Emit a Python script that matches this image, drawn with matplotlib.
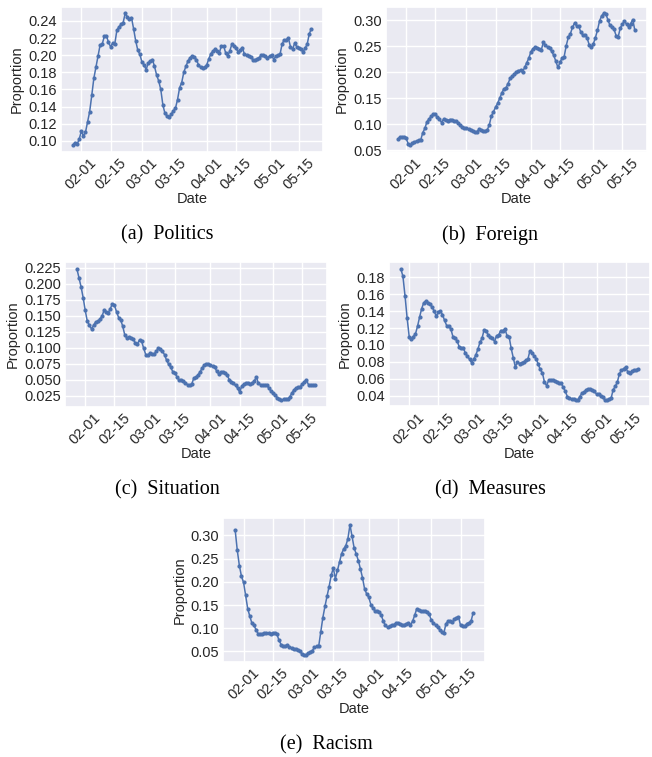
import matplotlib
matplotlib.use("Agg")
import matplotlib.pyplot as plt
import matplotlib.dates as mdates
import matplotlib.ticker as mticker
import numpy as np
import pandas as pd
import seaborn as sns

start_date = "2020-01-28"
end_date = "2020-05-21"

politics = [0.095, 0.098, 0.096, 0.102, 0.111, 0.106, 0.110, 0.122, 0.134, 0.153,
            0.173, 0.186, 0.199, 0.212, 0.213, 0.222, 0.223, 0.215, 0.210, 0.214,
            0.213, 0.229, 0.233, 0.236, 0.238, 0.249, 0.245, 0.242, 0.244, 0.231,
            0.217, 0.206, 0.201, 0.192, 0.189, 0.183, 0.191, 0.193, 0.195, 0.187,
            0.177, 0.170, 0.160, 0.142, 0.132, 0.129, 0.128, 0.131, 0.135, 0.138,
            0.148, 0.162, 0.168, 0.180, 0.187, 0.193, 0.197, 0.199, 0.198, 0.195,
            0.189, 0.186, 0.185, 0.186, 0.189, 0.196, 0.202, 0.205, 0.207, 0.205,
            0.203, 0.211, 0.211, 0.203, 0.199, 0.205, 0.213, 0.211, 0.208, 0.204,
            0.206, 0.209, 0.201, 0.200, 0.199, 0.198, 0.195, 0.194, 0.196, 0.197,
            0.200, 0.200, 0.199, 0.197, 0.199, 0.200, 0.195, 0.199, 0.200, 0.201,
            0.213, 0.218, 0.218, 0.220, 0.210, 0.207, 0.214, 0.210, 0.208, 0.207,
            0.204, 0.208, 0.213, 0.225, 0.231]

foreign = [0.072, 0.075, 0.076, 0.075, 0.073, 0.062, 0.060, 0.064, 0.066, 0.068,
           0.069, 0.070, 0.084, 0.092, 0.105, 0.110, 0.115, 0.119, 0.119, 0.114,
           0.111, 0.103, 0.110, 0.109, 0.107, 0.109, 0.109, 0.107, 0.106, 0.103,
           0.098, 0.095, 0.093, 0.093, 0.091, 0.089, 0.088, 0.085, 0.086, 0.090,
           0.089, 0.088, 0.087, 0.089, 0.099, 0.116, 0.124, 0.133, 0.140, 0.150,
           0.160, 0.168, 0.170, 0.178, 0.188, 0.192, 0.196, 0.200, 0.203, 0.204,
           0.201, 0.209, 0.218, 0.227, 0.239, 0.245, 0.248, 0.246, 0.244, 0.243,
           0.257, 0.252, 0.248, 0.246, 0.240, 0.232, 0.221, 0.209, 0.219, 0.227,
           0.230, 0.251, 0.267, 0.274, 0.286, 0.294, 0.289, 0.288, 0.277, 0.271,
           0.272, 0.266, 0.253, 0.248, 0.254, 0.266, 0.280, 0.298, 0.308, 0.313,
           0.312, 0.301, 0.290, 0.287, 0.282, 0.270, 0.268, 0.285, 0.292, 0.298,
           0.292, 0.287, 0.293, 0.301, 0.280]

situation = [0.223, 0.209, 0.195, 0.178, 0.158, 0.141, 0.135, 0.129, 0.135, 0.140,
             0.141, 0.144, 0.149, 0.158, 0.156, 0.154, 0.161, 0.168, 0.166, 0.156,
             0.147, 0.143, 0.133, 0.119, 0.115, 0.117, 0.115, 0.113, 0.107, 0.106,
             0.112, 0.110, 0.099, 0.089, 0.088, 0.091, 0.090, 0.090, 0.094, 0.099,
             0.098, 0.094, 0.089, 0.080, 0.074, 0.069, 0.062, 0.060, 0.054, 0.049,
             0.050, 0.048, 0.045, 0.042, 0.041, 0.043, 0.052, 0.054, 0.057, 0.062,
             0.068, 0.073, 0.074, 0.074, 0.073, 0.071, 0.070, 0.063, 0.059, 0.062,
             0.062, 0.061, 0.057, 0.050, 0.047, 0.044, 0.041, 0.037, 0.030, 0.040,
             0.043, 0.044, 0.044, 0.043, 0.044, 0.048, 0.054, 0.044, 0.042, 0.041,
             0.041, 0.041, 0.037, 0.032, 0.029, 0.026, 0.022, 0.019, 0.018, 0.019,
             0.019, 0.020, 0.023, 0.029, 0.034, 0.037, 0.038, 0.039, 0.043, 0.047,
             0.049, 0.042, 0.041, 0.042, 0.042]

measures = [0.190, 0.181, 0.158, 0.132, 0.110, 0.107, 0.110, 0.113, 0.122, 0.133,
            0.143, 0.150, 0.152, 0.150, 0.148, 0.145, 0.140, 0.134, 0.139, 0.140,
            0.136, 0.129, 0.123, 0.122, 0.119, 0.110, 0.108, 0.105, 0.098, 0.096,
            0.097, 0.090, 0.087, 0.083, 0.079, 0.083, 0.088, 0.095, 0.103, 0.108,
            0.118, 0.116, 0.112, 0.109, 0.108, 0.104, 0.111, 0.112, 0.117, 0.117,
            0.119, 0.111, 0.110, 0.096, 0.085, 0.074, 0.080, 0.078, 0.079, 0.080,
            0.082, 0.083, 0.093, 0.091, 0.087, 0.084, 0.077, 0.071, 0.067, 0.056,
            0.052, 0.058, 0.059, 0.058, 0.057, 0.056, 0.055, 0.055, 0.050, 0.045,
            0.039, 0.037, 0.036, 0.036, 0.035, 0.035, 0.039, 0.043, 0.044, 0.047,
            0.048, 0.048, 0.047, 0.045, 0.042, 0.042, 0.040, 0.038, 0.035, 0.035,
            0.036, 0.037, 0.047, 0.051, 0.056, 0.066, 0.070, 0.072, 0.074, 0.068,
            0.067, 0.069, 0.070, 0.070, 0.072]

racism = [0.311, 0.268, 0.235, 0.212, 0.199, 0.171, 0.142, 0.126, 0.111, 0.106,
          0.097, 0.088, 0.087, 0.088, 0.090, 0.090, 0.090, 0.088, 0.090, 0.090,
          0.087, 0.074, 0.065, 0.062, 0.062, 0.063, 0.059, 0.058, 0.056, 0.055,
          0.054, 0.050, 0.045, 0.042, 0.043, 0.046, 0.049, 0.052, 0.059, 0.061,
          0.061, 0.092, 0.123, 0.147, 0.169, 0.190, 0.214, 0.230, 0.207, 0.225,
          0.243, 0.261, 0.271, 0.278, 0.293, 0.323, 0.298, 0.273, 0.260, 0.246,
          0.228, 0.209, 0.185, 0.174, 0.167, 0.151, 0.143, 0.138, 0.137, 0.135,
          0.128, 0.115, 0.106, 0.102, 0.104, 0.106, 0.108, 0.111, 0.111, 0.110,
          0.108, 0.107, 0.110, 0.111, 0.107, 0.115, 0.128, 0.142, 0.140, 0.138,
          0.137, 0.137, 0.135, 0.130, 0.117, 0.112, 0.107, 0.102, 0.097, 0.092,
          0.090, 0.110, 0.115, 0.115, 0.113, 0.119, 0.123, 0.124, 0.106, 0.104,
          0.104, 0.110, 0.112, 0.115, 0.133]

captions = ["(a)  Politics", "(b)  Foreign", "(c)  Situation", "(d)  Measures", "(e)  Racism"]
series = [politics, foreign, situation, measures, racism]
y_steps = [0.02, 0.05, 0.025, 0.02, 0.05]
y_fmts = ["%.2f", "%.2f", "%.3f", "%.2f", "%.2f"]

sns.set_theme(style="darkgrid")
plt.rcParams["font.family"] = ["Liberation Sans", "DejaVu Sans"]

W, H = 652, 757
fig = plt.figure(figsize=(W / 100, H / 100), dpi=100)

# axes boxes in pixels: left, right, top, bottom
boxes = [(61, 323.3, 6.7, 151.7),
         (386, 646.7, 6.7, 151.7),
         (65, 326.7, 262.3, 406.7),
         (389, 650, 262.3, 406.5),
         (223.3, 485, 518.3, 661.7)]
cap_pos = [(167, 235), (490, 235), (167, 490), (490, 490), (326, 745)]

dates = pd.date_range(start_date, end_date, freq="D")

for vals, box, cap, cp, st, fm in zip(series, boxes, captions, cap_pos, y_steps, y_fmts):
    l, r, t, b = box
    ax = fig.add_axes([l / W, 1 - b / H, (r - l) / W, (b - t) / H])
    ax.plot(dates, vals, color="#4c72b0", lw=1.1, marker="o", markersize=2.0)
    ax.xaxis.set_major_locator(mdates.DayLocator(bymonthday=[1, 15]))
    ax.xaxis.set_major_formatter(mdates.DateFormatter("%m-%d"))
    ax.yaxis.set_major_locator(mticker.MultipleLocator(st))
    ax.yaxis.set_major_formatter(mticker.FormatStrFormatter(fm))
    ax.tick_params(axis="both", labelsize=10.5, colors="#262626", length=0, pad=3)
    for lab in ax.get_xticklabels():
        lab.set_rotation(45)
        lab.set_ha("center")
    ax.set_xlabel("Date", fontsize=10.5, labelpad=0)
    ax.set_ylabel("Proportion", fontsize=10.5, labelpad=3)
    fig.text(cp[0] / W, 1 - cp[1] / H, cap, ha="center", va="center",
             fontsize=14.5, family=["Liberation Serif", "DejaVu Serif"], color="black")

fig.savefig("out.png", dpi=100, facecolor="white")
